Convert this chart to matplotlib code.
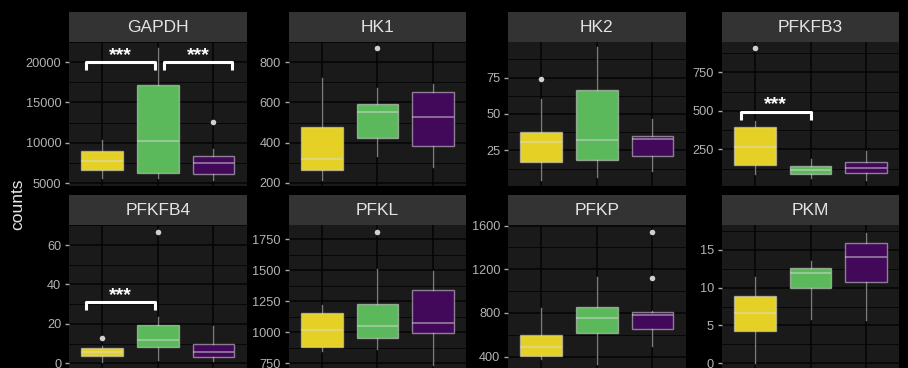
import matplotlib
matplotlib.use("Agg")
import matplotlib.pyplot as plt
import numpy as np

# ---------------- data ----------------
genes = ["GAPDH", "HK1", "HK2", "PFKFB3", "PFKFB4", "PFKL", "PFKP", "PKM"]
groups = ["G1", "G2", "G3"]
group_colors = ["#e5d125", "#5bb95b", "#42085a"]

# per gene: [yellow, green, purple]
q1 = {
    "GAPDH": [6576, 6278, 6080], "HK1": [266, 422, 385], "HK2": [16.7, 18.6, 20.9],
    "PFKFB3": [150, 88, 98], "PFKFB4": [3.9, 8.3, 2.9], "PFKL": [885, 957, 992],
    "PFKP": [409, 619, 652], "PKM": [4.3, 9.9, 10.7]}
med = {
    "GAPDH": [7767, 10211, 7444], "HK1": [321, 552, 528], "HK2": [30.5, 32.2, 32.9],
    "PFKFB3": [265, 114, 131], "PFKFB4": [5.7, 12.0, 5.7], "PFKL": [1016, 1054, 1075],
    "PFKP": [488, 750, 784], "PKM": [6.7, 11.9, 14.0]}
q3 = {
    "GAPDH": [9007, 17159, 8387], "HK1": [476, 592, 650], "HK2": [37.7, 66.4, 34.7],
    "PFKFB3": [395, 143, 166], "PFKFB4": [7.5, 19.2, 9.8], "PFKL": [1151, 1226, 1344],
    "PFKP": [601, 854, 808], "PKM": [8.9, 12.6, 15.9]}
wlo = {
    "GAPDH": [5583, 5583, 5372], "HK1": [215, 334, 278], "HK2": [4.8, 7.0, 10.5],
    "PFKFB3": [90, 64, 51], "PFKFB4": [0.5, 1.5, 0.9], "PFKL": [849, 869, 740],
    "PFKP": [382, 330, 494], "PKM": [0.0, 5.9, 5.7]}
whi = {
    "GAPDH": [10298, 21712, 9181], "HK1": [720, 673, 690], "HK2": [60.5, 95.7, 46.2],
    "PFKFB3": [436, 185, 239], "PFKFB4": [8.6, 23.5, 18.8], "PFKL": [1223, 1506, 1492],
    "PFKP": [841, 1128, 815], "PKM": [11.4, 13.5, 17.3]}
outliers = {
    "GAPDH": [[], [], [12568]], "HK1": [[], [868], []], "HK2": [[73.8], [], []],
    "PFKFB3": [[906], [], []], "PFKFB4": [[12.9], [66.8], []], "PFKL": [[], [1809], []],
    "PFKP": [[], [], [1539, 1122]], "PKM": [[], [], []]}

ylims = {
    "GAPDH": (4630, 22520), "HK1": (185, 901), "HK2": (0.5, 99.6), "PFKFB3": (12, 949),
    "PFKFB4": (-3.1, 70.2), "PFKL": (702, 1863), "PFKP": (284, 1605), "PKM": (-0.8, 18.3)}
yticks = {
    "GAPDH": [5000, 10000, 15000, 20000], "HK1": [200, 400, 600, 800],
    "HK2": [25, 50, 75], "PFKFB3": [250, 500, 750], "PFKFB4": [0, 20, 40, 60],
    "PFKL": [750, 1000, 1250, 1500, 1750], "PFKP": [400, 800, 1200, 1600],
    "PKM": [0, 5, 10, 15]}

# significance brackets
sig_gene = ["GAPDH", "GAPDH", "PFKFB3", "PFKFB4"]
sig_x1 = [0.71, 2.11, 0.75, 0.71]
sig_x2 = [1.95, 3.34, 2.00, 1.95]
sig_y = [20000, 20000, 492, 31.0]
sig_tip = [19007, 19007, 440, 27.0]
sig_label_y = [21278, 21278, 564, 36.3]
sig_label = ["***", "***", "***", "***"]

# ---------------- layout ----------------
W, H = 908, 368
plt.rcParams["font.family"] = ["Liberation Sans", "DejaVu Sans"]
fig = plt.figure(figsize=(W / 100, H / 100), dpi=100, facecolor="black")

def rect(l, t, r, b):
    return [l / W, 1 - b / H, (r - l) / W, (b - t) / H]

col_l = [69, 288.5, 508, 721.7]
pw = 177.7
row_strip_t = [11.7, 195.0]
row_panel_t = [41.7, 225.0]
ph = 144.3

panel_bg = "#1a1a1a"
grid_c = "#040404"
line_c = (0.86, 0.86, 0.86, 0.55)

for gi, g in enumerate(genes):
    r, c = divmod(gi, 4)
    l = col_l[c]
    # strip
    sax = fig.add_axes(rect(l, row_strip_t[r], l + pw, row_panel_t[r]))
    sax.set_facecolor("#333333")
    sax.set_xticks([]); sax.set_yticks([])
    for s in sax.spines.values():
        s.set_visible(False)
    sax.text(0.5, 0.47, g, ha="center", va="center", color="#e3e3e3",
             fontsize=12.5, transform=sax.transAxes)

    ax = fig.add_axes(rect(l, row_panel_t[r], l + pw, row_panel_t[r] + ph))
    ax.set_facecolor(panel_bg)
    for s in ax.spines.values():
        s.set_visible(False)
    ax.set_xlim(0.4, 3.6)
    ax.set_ylim(*ylims[g])
    maj = yticks[g]
    step = maj[1] - maj[0]
    ext = [maj[0] - step] + maj + [maj[-1] + step]
    minors = [(a + b) / 2 for a, b in zip(ext[:-1], ext[1:])]
    for v in minors:
        ax.axhline(v, color=grid_c, lw=0.6, zorder=0.5)
    for v in maj:
        ax.axhline(v, color=grid_c, lw=1.1, zorder=0.5)
    for v in [1, 2, 3]:
        ax.axvline(v, color=grid_c, lw=1.1, zorder=0.5)
    ax.set_yticks(maj)
    ax.set_yticklabels([str(v) for v in maj])
    ax.tick_params(axis="y", colors="#a8a8a8", labelsize=9.2, length=3, width=1, pad=2.5,
                   labelcolor="#b3b3b3")
    ax.set_xticks([])

    stats = []
    for k in range(3):
        stats.append(dict(med=med[g][k], q1=q1[g][k], q3=q3[g][k],
                          whislo=wlo[g][k], whishi=whi[g][k], fliers=outliers[g][k]))
    bp = ax.bxp(stats, positions=[1, 2, 3], widths=0.75, patch_artist=True,
                showcaps=False, manage_ticks=False,
                boxprops=dict(edgecolor=line_c, linewidth=1.0),
                whiskerprops=dict(color=line_c, linewidth=1.0),
                medianprops=dict(color=line_c, linewidth=1.2),
                flierprops=dict(marker="o", markersize=4.0, markerfacecolor="#cfcfcf",
                                markeredgecolor="none"))
    for patch, col in zip(bp["boxes"], group_colors):
        patch.set_facecolor(col)
    for i in range(len(sig_gene)):
        if sig_gene[i] != g:
            continue
        ax.plot([sig_x1[i], sig_x1[i], sig_x2[i], sig_x2[i]],
                [sig_tip[i], sig_y[i], sig_y[i], sig_tip[i]],
                color="white", lw=2.2, solid_joinstyle="round", solid_capstyle="butt",
                zorder=5)
        ax.annotate(sig_label[i], xy=((sig_x1[i] + sig_x2[i]) / 2, sig_label_y[i]),
                    xytext=(0, -2.5), textcoords="offset points", ha="center",
                    va="center", color="white", fontsize=14, fontweight="bold", zorder=5)

fig.text(18 / W, 1 - 204 / H, "counts", rotation=90, ha="center", va="center",
         color="#e6e6e6", fontsize=12.5)

fig.savefig("out.png", dpi=100, facecolor="black")
